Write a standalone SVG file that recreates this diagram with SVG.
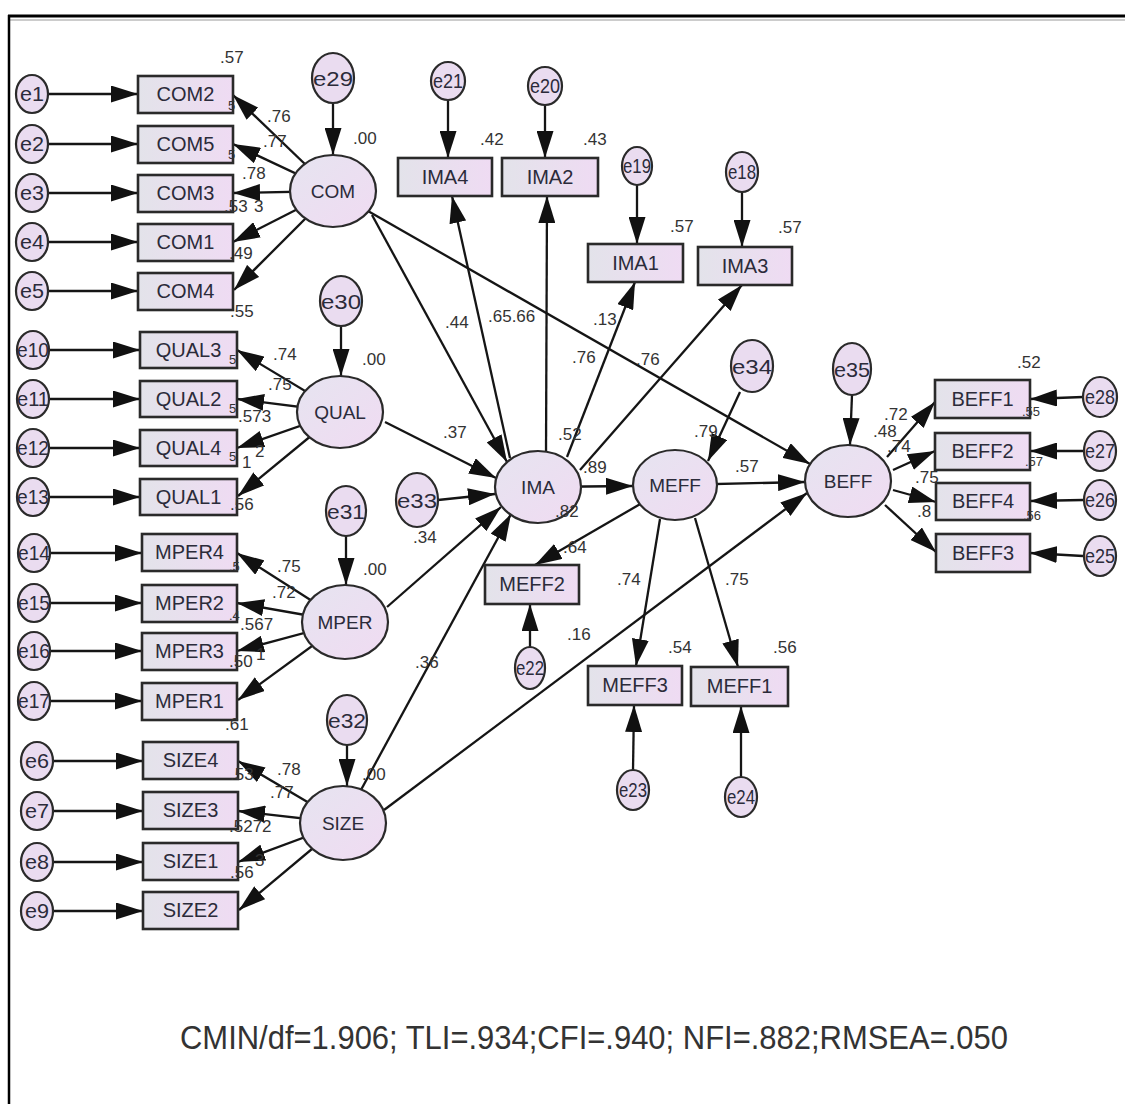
<svg xmlns="http://www.w3.org/2000/svg" width="1125" height="1104" viewBox="0 0 1125 1104">
<defs>
<style>
.bx{fill:url(#gb);stroke:#2a2a2a;stroke-width:2.6}
.lv{fill:url(#ge);stroke:#2a2a2a;stroke-width:2.2}
.er{fill:#eadcf0;stroke:#2a2a2a;stroke-width:2.2}
.nt{font-family:"Liberation Sans",Arial,sans-serif;font-size:20px;fill:#2b2b3a;text-anchor:middle}
.lt{font-family:"Liberation Sans",Arial,sans-serif;font-size:19px;fill:#2b2b3a;text-anchor:middle}
.et{font-family:"Liberation Sans",Arial,sans-serif;font-size:21px;fill:#2b2b3a;text-anchor:middle}
.lb{font-family:"Liberation Sans",Arial,sans-serif;font-size:17px;fill:#333}
.sm{font-family:"Liberation Sans",Arial,sans-serif;font-size:13px;fill:#333}
.cn line{stroke:#151515;stroke-width:2.3;marker-end:url(#ah)}
</style>
<linearGradient id="gb" x1="0" y1="0" x2="1" y2="0"><stop offset="0" stop-color="#e3e3ea"/><stop offset="1" stop-color="#efdbf3"/></linearGradient>
<linearGradient id="ge" x1="0" y1="0" x2="1" y2="1"><stop offset="0" stop-color="#e6e4f0"/><stop offset="1" stop-color="#f0dbf2"/></linearGradient>
<marker id="ah" viewBox="0 0 27 17" refX="27" refY="8.5" markerWidth="27" markerHeight="17" markerUnits="userSpaceOnUse" orient="auto"><path d="M0,0 L27,8.5 L0,17 z" fill="#111"/></marker>
</defs>
<rect width="1125" height="1104" fill="#fff"/>
<g id="frame">
<line x1="8" y1="16" x2="1125" y2="16" stroke="#000" stroke-width="3"/>
<line x1="10" y1="20" x2="1125" y2="20" stroke="#999" stroke-width="1"/>
<line x1="9" y1="15" x2="9" y2="1104" stroke="#000" stroke-width="2.5"/>
</g>
<g id="connectors" class="cn">
<line x1="48" y1="94" x2="138" y2="94"/>
<line x1="48" y1="144" x2="138" y2="144"/>
<line x1="48" y1="193" x2="138" y2="193"/>
<line x1="48" y1="242" x2="138" y2="242"/>
<line x1="48" y1="291" x2="138" y2="291"/>
<line x1="49" y1="350" x2="140" y2="350"/>
<line x1="49" y1="399" x2="140" y2="399"/>
<line x1="49" y1="448" x2="140" y2="448"/>
<line x1="49" y1="497" x2="140" y2="497"/>
<line x1="50" y1="553" x2="142" y2="553"/>
<line x1="50" y1="603" x2="142" y2="603"/>
<line x1="50" y1="651" x2="142" y2="651"/>
<line x1="50" y1="701" x2="142" y2="701"/>
<line x1="53" y1="761" x2="143" y2="761"/>
<line x1="53" y1="811" x2="143" y2="811"/>
<line x1="53" y1="862" x2="143" y2="862"/>
<line x1="53" y1="911" x2="143" y2="911"/>
<line x1="333" y1="191" x2="233" y2="95"/>
<line x1="333" y1="191" x2="233" y2="144"/>
<line x1="333" y1="191" x2="233" y2="193"/>
<line x1="333" y1="191" x2="233" y2="242"/>
<line x1="333" y1="191" x2="234" y2="290"/>
<line x1="340" y1="412" x2="237" y2="350"/>
<line x1="340" y1="412" x2="237" y2="399"/>
<line x1="340" y1="412" x2="237" y2="448"/>
<line x1="340" y1="412" x2="238" y2="496"/>
<line x1="345" y1="622" x2="237" y2="553"/>
<line x1="345" y1="622" x2="237" y2="603"/>
<line x1="345" y1="622" x2="237" y2="651"/>
<line x1="345" y1="622" x2="238" y2="700"/>
<line x1="343" y1="823" x2="238" y2="761"/>
<line x1="343" y1="823" x2="238" y2="811"/>
<line x1="343" y1="823" x2="238" y2="862"/>
<line x1="343" y1="823" x2="239" y2="910"/>
<line x1="333" y1="103" x2="333" y2="155"/>
<line x1="341" y1="326" x2="341" y2="376"/>
<line x1="346" y1="536" x2="346" y2="585"/>
<line x1="347" y1="745" x2="347" y2="786"/>
<line x1="448" y1="100" x2="448" y2="158"/>
<line x1="545" y1="105" x2="545" y2="158"/>
<line x1="637" y1="185" x2="637" y2="244"/>
<line x1="742" y1="192" x2="742" y2="247"/>
<line x1="530" y1="647" x2="530" y2="604"/>
<line x1="633" y1="770" x2="634" y2="705"/>
<line x1="741" y1="777" x2="741" y2="706"/>
<line x1="438" y1="500" x2="495" y2="494"/>
<line x1="740" y1="392" x2="708" y2="461"/>
<line x1="852" y1="395" x2="850" y2="445"/>
<line x1="1083" y1="397" x2="1030" y2="399"/>
<line x1="1083" y1="451" x2="1030" y2="451"/>
<line x1="1083" y1="500" x2="1030" y2="501"/>
<line x1="1083" y1="556" x2="1030" y2="553"/>
<line x1="372" y1="215" x2="507" y2="462"/>
<line x1="385" y1="422" x2="496" y2="478"/>
<line x1="387" y1="607" x2="501" y2="507"/>
<line x1="343" y1="823" x2="511" y2="514"/>
<line x1="333" y1="191" x2="810" y2="464"/>
<line x1="384" y1="810" x2="807" y2="493"/>
<line x1="510" y1="458" x2="452" y2="196"/>
<line x1="546" y1="455" x2="547" y2="196"/>
<line x1="567" y1="457" x2="635" y2="282"/>
<line x1="580" y1="470" x2="742" y2="285"/>
<line x1="538" y1="487" x2="633" y2="486"/>
<line x1="675" y1="485" x2="805" y2="482"/>
<line x1="642" y1="503" x2="535" y2="565"/>
<line x1="660" y1="519" x2="636" y2="666"/>
<line x1="695" y1="518" x2="738" y2="667"/>
<line x1="887" y1="457" x2="935" y2="402"/>
<line x1="893" y1="470" x2="935" y2="451"/>
<line x1="893" y1="490" x2="936" y2="502"/>
<line x1="885" y1="505" x2="936" y2="552"/>
</g>
<g id="nodes">
<g id="n-e1"><ellipse class="er" cx="32" cy="94" rx="16" ry="19"/><text class="et" x="32" y="101" textLength="24" lengthAdjust="spacingAndGlyphs">e1</text></g>
<g id="n-e2"><ellipse class="er" cx="32" cy="144" rx="16" ry="19"/><text class="et" x="32" y="151" textLength="24" lengthAdjust="spacingAndGlyphs">e2</text></g>
<g id="n-e3"><ellipse class="er" cx="32" cy="193" rx="16" ry="19"/><text class="et" x="32" y="200" textLength="24" lengthAdjust="spacingAndGlyphs">e3</text></g>
<g id="n-e4"><ellipse class="er" cx="32" cy="242" rx="16" ry="19"/><text class="et" x="32" y="249" textLength="24" lengthAdjust="spacingAndGlyphs">e4</text></g>
<g id="n-e5"><ellipse class="er" cx="32" cy="291" rx="16" ry="19"/><text class="et" x="32" y="298" textLength="24" lengthAdjust="spacingAndGlyphs">e5</text></g>
<g id="n-e10"><ellipse class="er" cx="33" cy="350" rx="16" ry="19"/><text class="et" x="33" y="357" textLength="32" lengthAdjust="spacingAndGlyphs">e10</text></g>
<g id="n-e11"><ellipse class="er" cx="33" cy="399" rx="16" ry="19"/><text class="et" x="33" y="406" textLength="32" lengthAdjust="spacingAndGlyphs">e11</text></g>
<g id="n-e12"><ellipse class="er" cx="33" cy="448" rx="16" ry="19"/><text class="et" x="33" y="455" textLength="32" lengthAdjust="spacingAndGlyphs">e12</text></g>
<g id="n-e13"><ellipse class="er" cx="33" cy="497" rx="16" ry="19"/><text class="et" x="33" y="504" textLength="32" lengthAdjust="spacingAndGlyphs">e13</text></g>
<g id="n-e14"><ellipse class="er" cx="34" cy="553" rx="16" ry="19"/><text class="et" x="34" y="560" textLength="32" lengthAdjust="spacingAndGlyphs">e14</text></g>
<g id="n-e15"><ellipse class="er" cx="34" cy="603" rx="16" ry="19"/><text class="et" x="34" y="610" textLength="32" lengthAdjust="spacingAndGlyphs">e15</text></g>
<g id="n-e16"><ellipse class="er" cx="34" cy="651" rx="16" ry="19"/><text class="et" x="34" y="658" textLength="32" lengthAdjust="spacingAndGlyphs">e16</text></g>
<g id="n-e17"><ellipse class="er" cx="34" cy="701" rx="16" ry="19"/><text class="et" x="34" y="708" textLength="32" lengthAdjust="spacingAndGlyphs">e17</text></g>
<g id="n-e6"><ellipse class="er" cx="37" cy="761" rx="16" ry="19"/><text class="et" x="37" y="768" textLength="24" lengthAdjust="spacingAndGlyphs">e6</text></g>
<g id="n-e7"><ellipse class="er" cx="37" cy="811" rx="16" ry="19"/><text class="et" x="37" y="818" textLength="24" lengthAdjust="spacingAndGlyphs">e7</text></g>
<g id="n-e8"><ellipse class="er" cx="37" cy="862" rx="16" ry="19"/><text class="et" x="37" y="869" textLength="24" lengthAdjust="spacingAndGlyphs">e8</text></g>
<g id="n-e9"><ellipse class="er" cx="37" cy="911" rx="16" ry="19"/><text class="et" x="37" y="918" textLength="24" lengthAdjust="spacingAndGlyphs">e9</text></g>

<g id="n-COM2"><rect class="bx" x="138" y="76" width="95" height="37"/><text class="nt" x="185.5" y="101">COM2</text></g>
<g id="n-COM5"><rect class="bx" x="138" y="126" width="95" height="37"/><text class="nt" x="185.5" y="151">COM5</text></g>
<g id="n-COM3"><rect class="bx" x="138" y="175" width="95" height="37"/><text class="nt" x="185.5" y="200">COM3</text></g>
<g id="n-COM1"><rect class="bx" x="138" y="224" width="95" height="37"/><text class="nt" x="185.5" y="249">COM1</text></g>
<g id="n-COM4"><rect class="bx" x="138" y="273" width="95" height="37"/><text class="nt" x="185.5" y="298">COM4</text></g>
<g id="n-QUAL3"><rect class="bx" x="140" y="332" width="97" height="36"/><text class="nt" x="188.5" y="357">QUAL3</text></g>
<g id="n-QUAL2"><rect class="bx" x="140" y="381" width="97" height="36"/><text class="nt" x="188.5" y="406">QUAL2</text></g>
<g id="n-QUAL4"><rect class="bx" x="140" y="430" width="97" height="36"/><text class="nt" x="188.5" y="455">QUAL4</text></g>
<g id="n-QUAL1"><rect class="bx" x="140" y="479" width="97" height="36"/><text class="nt" x="188.5" y="504">QUAL1</text></g>
<g id="n-MPER4"><rect class="bx" x="142" y="534" width="95" height="37"/><text class="nt" x="189.5" y="559">MPER4</text></g>
<g id="n-MPER2"><rect class="bx" x="142" y="585" width="95" height="37"/><text class="nt" x="189.5" y="610">MPER2</text></g>
<g id="n-MPER3"><rect class="bx" x="142" y="633" width="95" height="37"/><text class="nt" x="189.5" y="658">MPER3</text></g>
<g id="n-MPER1"><rect class="bx" x="142" y="683" width="95" height="37"/><text class="nt" x="189.5" y="708">MPER1</text></g>
<g id="n-SIZE4"><rect class="bx" x="143" y="742" width="95" height="37"/><text class="nt" x="190.5" y="767">SIZE4</text></g>
<g id="n-SIZE3"><rect class="bx" x="143" y="792" width="95" height="37"/><text class="nt" x="190.5" y="817">SIZE3</text></g>
<g id="n-SIZE1"><rect class="bx" x="143" y="843" width="95" height="37"/><text class="nt" x="190.5" y="868">SIZE1</text></g>
<g id="n-SIZE2"><rect class="bx" x="143" y="892" width="95" height="37"/><text class="nt" x="190.5" y="917">SIZE2</text></g>

<g id="n-COM"><ellipse class="lv" cx="333" cy="191" rx="43" ry="36"/><text class="lt" x="333" y="198">COM</text></g>
<g id="n-QUAL"><ellipse class="lv" cx="340" cy="412" rx="43" ry="36"/><text class="lt" x="340" y="419">QUAL</text></g>
<g id="n-MPER"><ellipse class="lv" cx="345" cy="622" rx="43" ry="37"/><text class="lt" x="345" y="629">MPER</text></g>
<g id="n-SIZE"><ellipse class="lv" cx="343" cy="823" rx="43" ry="37"/><text class="lt" x="343" y="830">SIZE</text></g>
<g id="n-IMA"><ellipse class="lv" cx="538" cy="487" rx="43" ry="36"/><text class="lt" x="538" y="494">IMA</text></g>
<g id="n-MEFF"><ellipse class="lv" cx="675" cy="485" rx="42" ry="35"/><text class="lt" x="675" y="492">MEFF</text></g>
<g id="n-BEFF"><ellipse class="lv" cx="848" cy="481" rx="43" ry="36"/><text class="lt" x="848" y="488">BEFF</text></g>

<g id="n-e29"><ellipse class="er" cx="333" cy="78" rx="21" ry="25"/><text class="et" x="333" y="86" textLength="40" lengthAdjust="spacingAndGlyphs" font-size="23">e29</text></g>
<g id="n-e30"><ellipse class="er" cx="341" cy="301" rx="21" ry="25"/><text class="et" x="341" y="309" textLength="40" lengthAdjust="spacingAndGlyphs" font-size="23">e30</text></g>
<g id="n-e31"><ellipse class="er" cx="346" cy="511" rx="20" ry="25"/><text class="et" x="346" y="519" textLength="38" lengthAdjust="spacingAndGlyphs" font-size="23">e31</text></g>
<g id="n-e32"><ellipse class="er" cx="347" cy="720" rx="20" ry="25"/><text class="et" x="347" y="728" textLength="38" lengthAdjust="spacingAndGlyphs" font-size="23">e32</text></g>
<g id="n-e33"><ellipse class="er" cx="417" cy="500" rx="21" ry="27"/><text class="et" x="417" y="508" textLength="40" lengthAdjust="spacingAndGlyphs" font-size="23">e33</text></g>
<g id="n-e34"><ellipse class="er" cx="752" cy="366" rx="21" ry="26"/><text class="et" x="752" y="374" textLength="40" lengthAdjust="spacingAndGlyphs" font-size="23">e34</text></g>
<g id="n-e35"><ellipse class="er" cx="852" cy="369" rx="19" ry="26"/><text class="et" x="852" y="377" textLength="36" lengthAdjust="spacingAndGlyphs" font-size="23">e35</text></g>

<g id="n-e21"><ellipse class="er" cx="448" cy="81" rx="17" ry="19"/><text class="et" x="448" y="88" textLength="30" lengthAdjust="spacingAndGlyphs">e21</text></g>
<g id="n-e20"><ellipse class="er" cx="545" cy="86" rx="17" ry="19"/><text class="et" x="545" y="93" textLength="30" lengthAdjust="spacingAndGlyphs">e20</text></g>
<g id="n-e19"><ellipse class="er" cx="637" cy="166" rx="15" ry="19"/><text class="et" x="637" y="173" textLength="28" lengthAdjust="spacingAndGlyphs">e19</text></g>
<g id="n-e18"><ellipse class="er" cx="742" cy="172" rx="16" ry="20"/><text class="et" x="742" y="179" textLength="28" lengthAdjust="spacingAndGlyphs">e18</text></g>
<g id="n-e22"><ellipse class="er" cx="530" cy="668" rx="15" ry="21"/><text class="et" x="530" y="675" textLength="28" lengthAdjust="spacingAndGlyphs">e22</text></g>
<g id="n-e23"><ellipse class="er" cx="633" cy="790" rx="16" ry="20"/><text class="et" x="633" y="797" textLength="28" lengthAdjust="spacingAndGlyphs">e23</text></g>
<g id="n-e24"><ellipse class="er" cx="741" cy="797" rx="16" ry="20"/><text class="et" x="741" y="804" textLength="28" lengthAdjust="spacingAndGlyphs">e24</text></g>
<g id="n-e28"><ellipse class="er" cx="1100" cy="397" rx="17" ry="20"/><text class="et" x="1100" y="404" textLength="30" lengthAdjust="spacingAndGlyphs">e28</text></g>
<g id="n-e27"><ellipse class="er" cx="1100" cy="451" rx="16" ry="20"/><text class="et" x="1100" y="458" textLength="30" lengthAdjust="spacingAndGlyphs">e27</text></g>
<g id="n-e26"><ellipse class="er" cx="1100" cy="500" rx="16" ry="20"/><text class="et" x="1100" y="507" textLength="30" lengthAdjust="spacingAndGlyphs">e26</text></g>
<g id="n-e25"><ellipse class="er" cx="1100" cy="556" rx="16" ry="20"/><text class="et" x="1100" y="563" textLength="30" lengthAdjust="spacingAndGlyphs">e25</text></g>

<g id="n-IMA4"><rect class="bx" x="398" y="158" width="94" height="38"/><text class="nt" x="445" y="184">IMA4</text></g>
<g id="n-IMA2"><rect class="bx" x="502" y="158" width="96" height="38"/><text class="nt" x="550" y="184">IMA2</text></g>
<g id="n-IMA1"><rect class="bx" x="588" y="244" width="95" height="38"/><text class="nt" x="635.5" y="270">IMA1</text></g>
<g id="n-IMA3"><rect class="bx" x="698" y="247" width="94" height="38"/><text class="nt" x="745" y="273">IMA3</text></g>
<g id="n-MEFF2"><rect class="bx" x="485" y="565" width="94" height="39"/><text class="nt" x="532" y="591">MEFF2</text></g>
<g id="n-MEFF3"><rect class="bx" x="588" y="666" width="94" height="39"/><text class="nt" x="635" y="692">MEFF3</text></g>
<g id="n-MEFF1"><rect class="bx" x="691" y="667" width="97" height="39"/><text class="nt" x="739.5" y="693">MEFF1</text></g>
<g id="n-BEFF1"><rect class="bx" x="935" y="380" width="95" height="38"/><text class="nt" x="982.5" y="406">BEFF1</text></g>
<g id="n-BEFF2"><rect class="bx" x="935" y="433" width="95" height="37"/><text class="nt" x="982.5" y="458">BEFF2</text></g>
<g id="n-BEFF4"><rect class="bx" x="936" y="483" width="94" height="37"/><text class="nt" x="983" y="508">BEFF4</text></g>
<g id="n-BEFF3"><rect class="bx" x="936" y="534" width="94" height="38"/><text class="nt" x="983" y="560">BEFF3</text></g>
</g>
<g id="labels">
<text class="lb" x="220" y="63">.57</text>
<text class="sm" x="228" y="110">5</text>
<text class="lb" x="267" y="122">.76</text>
<text class="lb" x="353" y="144">.00</text>
<text class="lb" x="263" y="147">.77</text>
<text class="sm" x="228" y="159">5</text>
<text class="lb" x="242" y="179">.78</text>
<text class="lb" x="224" y="212">.53</text>
<text class="lb" x="254" y="212">3</text>
<text class="lb" x="229" y="259">.49</text>
<text class="lb" x="230" y="317">.55</text>
<text class="sm" x="229" y="364">5</text>
<text class="lb" x="273" y="360">.74</text>
<text class="lb" x="362" y="365">.00</text>
<text class="lb" x="268" y="390">.75</text>
<text class="sm" x="229" y="413">5</text>
<text class="lb" x="238" y="422">.573</text>
<text class="lb" x="255" y="457">2</text>
<text class="sm" x="229" y="461">5</text>
<text class="lb" x="242" y="468">1</text>
<text class="lb" x="230" y="510">.56</text>
<text class="sm" x="229" y="571">.5</text>
<text class="lb" x="277" y="572">.75</text>
<text class="lb" x="363" y="575">.00</text>
<text class="lb" x="272" y="598">.72</text>
<text class="sm" x="229" y="620">.4</text>
<text class="lb" x="240" y="630">.567</text>
<text class="lb" x="229" y="667">.50</text>
<text class="lb" x="256" y="660">1</text>
<text class="lb" x="225" y="730">.61</text>
<text class="lb" x="277" y="775">.78</text>
<text class="lb" x="362" y="780">.00</text>
<text class="lb" x="270" y="798">.77</text>
<text class="lb" x="230" y="780">.53</text>
<text class="lb" x="229" y="832">.5272</text>
<text class="lb" x="230" y="878">.56</text>
<text class="lb" x="255" y="866">3</text>

<text class="lb" x="480" y="145">.42</text>
<text class="lb" x="583" y="145">.43</text>
<text class="lb" x="670" y="232">.57</text>
<text class="lb" x="778" y="233">.57</text>
<text class="lb" x="445" y="328">.44</text>
<text class="lb" x="488" y="322">.65.66</text>
<text class="lb" x="593" y="325">.13</text>
<text class="lb" x="572" y="363">.76</text>
<text class="lb" x="636" y="365">.76</text>
<text class="lb" x="443" y="438">.37</text>
<text class="lb" x="558" y="440">.52</text>
<text class="lb" x="583" y="473">.89</text>
<text class="lb" x="694" y="437">.79</text>
<text class="lb" x="735" y="472">.57</text>
<text class="lb" x="555" y="517">.82</text>
<text class="lb" x="413" y="543">.34</text>
<text class="lb" x="563" y="553">.64</text>
<text class="lb" x="415" y="668">.36</text>
<text class="lb" x="617" y="585">.74</text>
<text class="lb" x="725" y="585">.75</text>
<text class="lb" x="567" y="640">.16</text>
<text class="lb" x="668" y="653">.54</text>
<text class="lb" x="773" y="653">.56</text>

<text class="lb" x="1017" y="368">.52</text>
<text class="lb" x="884" y="420">.72</text>
<text class="lb" x="873" y="437">.48</text>
<text class="lb" x="887" y="452">.74</text>
<text class="lb" x="915" y="483">.75</text>
<text class="lb" x="917" y="517">.8</text>
<text class="sm" x="1022" y="416">.55</text>
<text class="sm" x="1025" y="466">.57</text>
<text class="sm" x="1023" y="520">.56</text>

<text x="180" y="1049" font-family="Liberation Sans, Arial, sans-serif" font-size="33" fill="#333" textLength="828" lengthAdjust="spacingAndGlyphs">CMIN/df=1.906; TLI=.934;CFI=.940; NFI=.882;RMSEA=.050</text>
</g>
</svg>
